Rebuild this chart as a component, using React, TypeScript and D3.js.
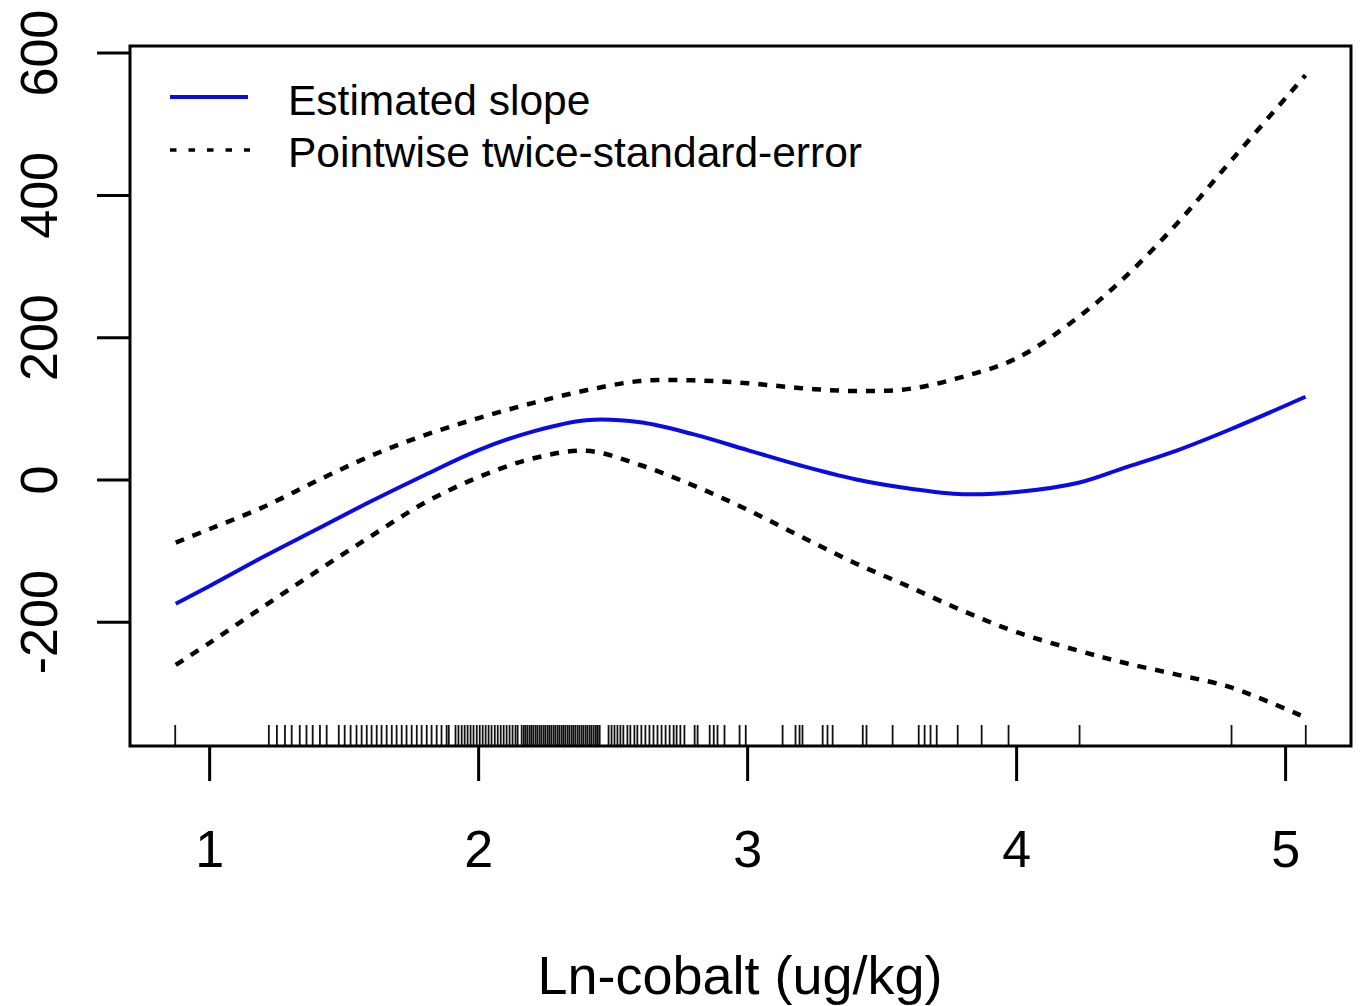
import React from "react";
import * as d3 from "d3";

const xGrid = [0.874, 1.0, 1.2, 1.4, 1.6, 1.8, 2.0, 2.2, 2.4, 2.6, 2.8, 3.0, 3.2, 3.4, 3.6, 3.8, 4.0, 4.23, 4.4, 4.6, 4.8, 5.074];
const fitValues = [-174, -149, -108, -69, -30, 7, 42, 68, 84, 81, 64, 42, 20, 1, -12, -20, -17, -4, 17, 42, 72, 117];
const upperValues = [-88, -69, -38, -1, 34, 63, 87, 108, 126, 139, 140, 136, 129, 125, 128, 145, 171, 229, 284, 362, 450, 569];
const lowerValues = [-260, -229, -178, -128, -79, -32, 4, 30, 41, 21, -8, -42, -80, -117, -150, -184, -214, -240, -257, -274, -292, -334];

const rugValues = [
  0.872,
  1.22, 1.25, 1.28, 1.305, 1.335, 1.36, 1.383, 1.41, 1.435,
  1.48, 1.502, 1.524, 1.546, 1.565, 1.584, 1.602, 1.621, 1.639, 1.658, 1.677, 1.695, 1.714, 1.732, 1.751, 1.77, 1.788, 1.807, 1.825, 1.844, 1.862, 1.881, 1.889,
  1.914, 1.925, 1.937, 1.948, 1.959, 1.97, 1.981, 1.993, 2.004, 2.015, 2.026, 2.037, 2.048, 2.06, 2.071, 2.082, 2.093, 2.104, 2.115, 2.126, 2.137, 2.145,
  2.16, 2.168, 2.175, 2.182, 2.19, 2.197, 2.204, 2.212, 2.219, 2.227, 2.234, 2.242, 2.249, 2.257, 2.264, 2.271, 2.279, 2.286, 2.294, 2.301, 2.309, 2.316, 2.323, 2.331, 2.338, 2.346, 2.353, 2.36, 2.368, 2.375, 2.383, 2.39, 2.398, 2.405, 2.413, 2.42, 2.428, 2.436, 2.443, 2.45,
  2.483, 2.494, 2.505, 2.516, 2.527, 2.538, 2.553, 2.564, 2.579, 2.59, 2.605, 2.62, 2.635, 2.65, 2.665, 2.68, 2.695, 2.71, 2.725, 2.736, 2.75, 2.765,
  2.803, 2.814, 2.859, 2.874, 2.888, 2.914, 2.97, 2.993,
  3.13, 3.178, 3.193, 3.204, 3.279, 3.297, 3.316, 3.428, 3.442, 3.539,
  3.636, 3.658, 3.68, 3.703, 3.781, 3.87, 3.97, 4.234, 4.799, 5.075,
];

const xTicks = [1, 2, 3, 4, 5];
const yTicks = [-200, 0, 200, 400, 600];
const legendLabels = ["Estimated slope", "Pointwise twice-standard-error"];
const xLabel = "Ln-cobalt (ug/kg)";

const W = 1360;
const H = 1006;
const box = { left: 130, right: 1351, top: 46, bottom: 746 };
const FONT = "'Liberation Sans', Arial, Helvetica, sans-serif";
const BLUE = "#0a0ae6";

export default function App() {
  const [xmin, xmax] = d3.extent(rugValues) as [number, number];
  const r = xmax - xmin;
  const x = d3.scaleLinear().domain([xmin - 0.04 * r, xmax + 0.04 * r]).range([box.left, box.right]);
  const y = d3.scaleLinear().domain([-374, 610]).range([box.bottom, box.top]);

  const mk = (vals: number[]) =>
    d3
      .line<number>()
      .x((_, i) => x(xGrid[i]))
      .y((v) => y(v))
      .curve(d3.curveCatmullRom.alpha(0.5))(vals) || "";

  const dash = "9,9";

  return (
    <svg width={W} height={H} style={{ position: "absolute", left: 0, top: 0, background: "#fff" }}>
      <rect x={0} y={0} width={W} height={H} fill="#fff" />
      {/* curves */}
      <path d={mk(upperValues)} fill="none" stroke="#000" strokeWidth={4.5} strokeDasharray={dash} />
      <path d={mk(lowerValues)} fill="none" stroke="#000" strokeWidth={4.5} strokeDasharray={dash} />
      <path d={mk(fitValues)} fill="none" stroke={BLUE} strokeWidth={4} />

      {/* rug */}
      {rugValues.map((v, i) => (
        <line key={i} x1={x(v)} x2={x(v)} y1={box.bottom - 21} y2={box.bottom} stroke="#111" strokeWidth={1.8} />
      ))}

      {/* box */}
      <rect x={box.left} y={box.top} width={box.right - box.left} height={box.bottom - box.top} fill="none" stroke="#000" strokeWidth={3} />

      {/* x axis */}
      {xTicks.map((t) => (
        <g key={t}>
          <line x1={x(t)} x2={x(t)} y1={box.bottom} y2={box.bottom + 35} stroke="#000" strokeWidth={3} />
          <text x={x(t)} y={867} textAnchor="middle" fontFamily={FONT} fontSize={52} fill="#000">
            {t}
          </text>
        </g>
      ))}
      {/* y axis */}
      {yTicks.map((t) => (
        <g key={t}>
          <line x1={box.left - 33} x2={box.left} y1={y(t)} y2={y(t)} stroke="#000" strokeWidth={3} />
          <text
            transform={`translate(57,${y(t)}) rotate(-90)`}
            textAnchor="middle"
            fontFamily={FONT}
            fontSize={52}
            fill="#000"
          >
            {t}
          </text>
        </g>
      ))}

      <text x={740} y={994} textAnchor="middle" fontFamily={FONT} fontSize={54} fill="#000">
        {xLabel}
      </text>

      {/* legend */}
      <line x1={170} x2={248} y1={97} y2={97} stroke={BLUE} strokeWidth={4} />
      <text x={288} y={115} fontFamily={FONT} fontSize={42.5} fill="#000">
        {legendLabels[0]}
      </text>
      <line x1={170} x2={250} y1={150} y2={150} stroke="#000" strokeWidth={3.5} strokeDasharray="6.5,12" />
      <text x={288} y={167} fontFamily={FONT} fontSize={42.5} fill="#000">
        {legendLabels[1]}
      </text>
    </svg>
  );
}
